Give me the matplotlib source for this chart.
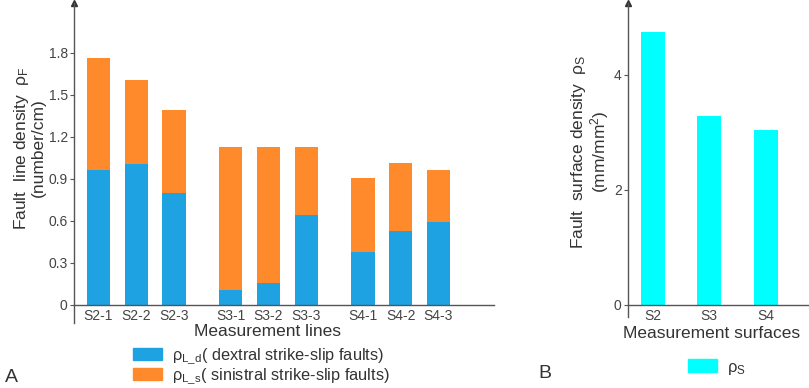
import matplotlib
matplotlib.use("Agg")
import matplotlib.pyplot as plt
from matplotlib.patches import Patch

plt.rcParams['font.family'] = ['Liberation Sans', 'DejaVu Sans']
plt.rcParams['mathtext.fontset'] = 'custom'
plt.rcParams['mathtext.rm'] = 'Liberation Sans'
plt.rcParams['mathtext.it'] = 'Liberation Sans:italic'

# ---- data ----
line_names = ["S2-1", "S2-2", "S2-3", "S3-1", "S3-2", "S3-3", "S4-1", "S4-2", "S4-3"]
line_pos = [0, 1, 2, 3.5, 4.5, 5.5, 7, 8, 9]
dextral = [0.964, 1.009, 0.802, 0.107, 0.160, 0.643, 0.376, 0.531, 0.590]
total_line = [1.764, 1.605, 1.390, 1.129, 1.129, 1.129, 0.905, 1.014, 0.964]
sinistral = [t - d for t, d in zip(total_line, dextral)]
left_yticks = [0, 0.3, 0.6, 0.9, 1.2, 1.5, 1.8]
left_yticklabels = ["0", "0.3", "0.6", "0.9", "1.2", "1.5", "1.8"]

surf_names = ["S2", "S3", "S4"]
surf_density = [4.74, 3.29, 3.04]
right_yticks = [0, 2, 4]

BLUE = '#1EA2E2'
ORANGE = '#FE8A2B'
CYAN = '#00FFFF'
AX = '#555555'
TXT = '#333333'

W, H = 809, 388
fig = plt.figure(figsize=(W / 100, H / 100), dpi=100)

def px_axes(x0, x1, ytop, ybot):
    return fig.add_axes([x0 / W, 1 - ybot / H, (x1 - x0) / W, (ybot - ytop) / H])

def style(ax):
    for s in ['top', 'right']:
        ax.spines[s].set_visible(False)
    ax.spines['left'].set_color(AX)
    ax.spines['bottom'].set_color(AX)
    ax.spines['left'].set_linewidth(1.0)
    ax.spines['bottom'].set_linewidth(1.0)
    ax.spines['bottom'].set_position(('data', 0))
    ax.tick_params(axis='x', length=0, pad=3, labelsize=10, labelcolor='#444444')
    ax.tick_params(axis='y', length=3, width=0.8, color=AX, pad=1.5, labelsize=10, labelcolor='#444444')
    ax.plot(0, 1, marker='^', ms=4, color='#333333', transform=ax.transAxes, clip_on=False)

# ---- left panel ----
ax1 = px_axes(74, 494, 3, 323)
ax1.bar(line_pos, dextral, width=0.62, color=BLUE, linewidth=0)
ax1.bar(line_pos, sinistral, bottom=dextral, width=0.62, color=ORANGE, linewidth=0)
ax1.set_xlim(-0.649, 10.47)
ax1.set_ylim(-0.1286, 2.157)
ax1.set_xticks(line_pos)
ax1.set_xticklabels(line_names)
ax1.set_yticks(left_yticks)
ax1.set_yticklabels(left_yticklabels)
style(ax1)

fig.text(29 / W, 1 - 148 / H, "Fault  line density  ρ$_{\\mathrm{F}}$\n(number/cm)",
         rotation=90, ha='center', va='center', multialignment='center',
         fontsize=12.5, color=TXT, linespacing=1.0)
fig.text(268 / W, 1 - 332 / H, "Measurement lines", ha='center', va='center', fontsize=12.5, color=TXT)

h1 = [Patch(color=BLUE), Patch(color=ORANGE)]
l1 = ["ρ$_{\\mathrm{L\\_d}}$( dextral strike-slip faults)", "ρ$_{\\mathrm{L\\_s}}$( sinistral strike-slip faults)"]
fig.legend(h1, l1, loc='center left', bbox_to_anchor=(133 / W, 1 - 366.5 / H), frameon=False,
           fontsize=11.8, handlelength=1.75, handleheight=0.7, handletextpad=0.6,
           labelspacing=0.0, borderpad=0, borderaxespad=0, labelcolor=TXT)
fig.text(11 / W, 1 - 377 / H, "A", ha='center', va='center', fontsize=14, color=TXT)

# ---- right panel ----
ax2 = px_axes(628, 809, 3, 317)
ax2.bar(range(len(surf_names)), surf_density, width=0.43, color=CYAN, linewidth=0)
ax2.set_xlim(-0.439, 2.765)
ax2.set_ylim(-0.214, 5.247)
ax2.set_xticks(range(len(surf_names)))
ax2.set_xticklabels(surf_names)
ax2.set_yticks(right_yticks)
ax2.set_yticklabels([str(v) for v in right_yticks])
style(ax2)

fig.text(590 / W, 1 - 152 / H, "Fault  surface density  ρ$_{\\mathrm{S}}$\n(mm/mm$^{2}$)",
         rotation=90, ha='center', va='center', multialignment='center',
         fontsize=12.5, color=TXT, linespacing=1.0)
fig.text(712 / W, 1 - 333 / H, "Measurement surfaces", ha='center', va='center', fontsize=12.5, color=TXT)
fig.legend([Patch(color=CYAN)], ["ρ$_{\\mathrm{S}}$"], loc='center left',
           bbox_to_anchor=(688 / W, 1 - 368 / H), frameon=False, fontsize=12,
           handlelength=1.75, handleheight=0.8, handletextpad=0.6, borderpad=0,
           borderaxespad=0, labelcolor=TXT)
fig.text(545 / W, 1 - 374 / H, "B", ha='center', va='center', fontsize=14, color=TXT)

fig.savefig("out.png", dpi=100)
